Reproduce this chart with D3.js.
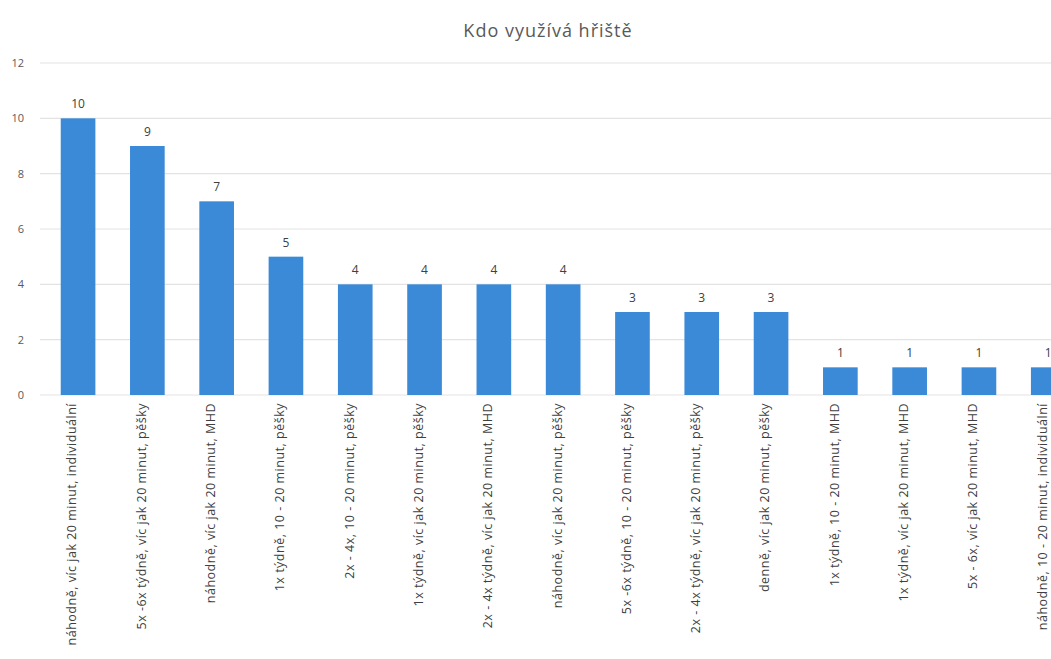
<!DOCTYPE html>
<html><head><meta charset="utf-8">
<script src="https://cdn.jsdelivr.net/npm/d3@7"></script>
<style>body{margin:0;background:#fff;overflow:hidden}svg{display:block}</style>
</head><body>
<svg id="c" width="1051" height="659"></svg>
<script>
const categories = [
  "náhodně, víc jak 20 minut, individuální",
  "5x -6x týdně, víc jak 20 minut, pěšky",
  "náhodně, víc jak 20 minut, MHD",
  "1x týdně, 10 - 20 minut, pěšky",
  "2x - 4x, 10 - 20 minut, pěšky",
  "1x týdně, víc jak 20 minut, pěšky",
  "2x - 4x týdně, víc jak 20 minut, MHD",
  "náhodně, víc jak 20 minut, pěšky",
  "5x -6x týdně, 10 - 20 minut, pěšky",
  "2x - 4x týdně, víc jak 20 minut, pěšky",
  "denně, víc jak 20 minut, pěšky",
  "1x týdně, 10 - 20 minut, MHD",
  "1x týdně, víc jak 20 minut, MHD",
  "5x - 6x, víc jak 20 minut, MHD",
  "náhodně, 10 - 20 minut, individuální"
];
const values = [10, 9, 7, 5, 4, 4, 4, 4, 3, 3, 3, 1, 1, 1, 1];
const yTicks = [0, 2, 4, 6, 8, 10, 12];
const title = "Kdo využívá hřiště";

const svg = d3.select("#c");
const font = "'Open Sans', sans-serif";
const x = d3.scaleBand().domain(categories).range([43.4, 43.4 + 15 * 69.3]).paddingInner(0.5).paddingOuter(0.25);
const y = d3.scaleLinear().domain([0, 12]).range([395, 63]);

svg.append("text").attr("x", 548).attr("y", 37).attr("text-anchor", "middle")
  .attr("font-family", font).attr("font-size", 18).attr("letter-spacing", 1).attr("fill", "#595959").text(title);

const grid = svg.append("g");
grid.selectAll("line").data(yTicks).join("line")
  .attr("x1", 40).attr("x2", 1051).attr("y1", d => y(d)).attr("y2", d => y(d))
  .attr("stroke", "#e3e3e3").attr("stroke-width", 1.2);

const yAxis = d3.axisLeft(y).tickValues(yTicks).tickSize(0).tickPadding(0);
const ya = svg.append("g").attr("transform", "translate(24,0)").call(yAxis);
ya.select(".domain").remove();
ya.selectAll("text").attr("font-family", font).attr("font-size", 11).attr("fill", "#595959");

svg.append("g").selectAll("rect").data(values).join("rect")
  .attr("x", (d, i) => x(categories[i])).attr("width", x.bandwidth())
  .attr("y", d => y(d)).attr("height", d => y(0) - y(d)).attr("fill", "#3b8ad8");

svg.append("g").selectAll("text").data(values).join("text")
  .attr("x", (d, i) => x(categories[i]) + x.bandwidth() / 2).attr("y", d => y(d) - 10)
  .attr("text-anchor", "middle").attr("font-family", font).attr("font-size", 12).attr("fill", "#404040")
  .text(d => d);

const xAxis = d3.axisBottom(x).tickSize(0).tickPadding(0);
const xa = svg.append("g").attr("transform", "translate(0,395)").call(xAxis);
xa.select(".domain").remove();
xa.selectAll("text")
  .attr("transform", "rotate(-90)").attr("text-anchor", "end")
  .attr("x", -8).attr("y", -6).attr("dy", "0.35em")
  .attr("font-family", font).attr("font-size", 12.5).attr("letter-spacing", 0.5).attr("fill", "#404040");
</script>
</body></html>
